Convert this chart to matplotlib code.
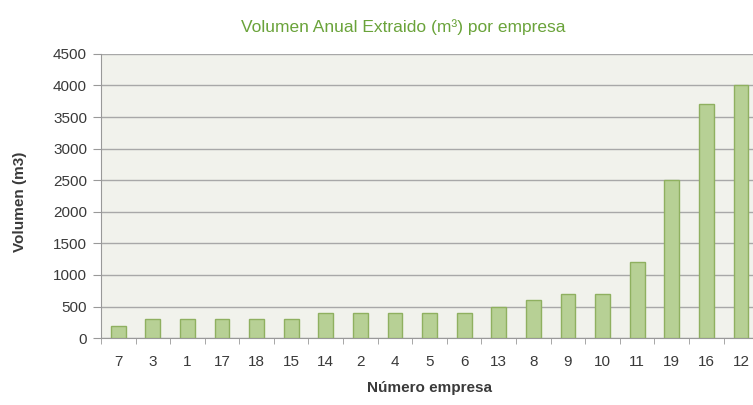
import matplotlib.pyplot as plt
import numpy as np

plt.rcParams["font.family"] = ["Liberation Sans", "DejaVu Sans"]

# company numbers (sorted by volume) and annual extracted volume (m3)
empresas = ["7", "3", "1", "17", "18", "15", "14", "2", "4", "5", "6",
            "13", "8", "9", "10", "11", "19", "16", "12"]
volumen = [200, 300, 300, 300, 300, 300, 400, 400, 400, 400, 400,
           500, 600, 700, 700, 1200, 2500, 3700, 4000]
yticks = list(range(0, 4501, 500))

fig = plt.figure(figsize=(7.53, 4.05), dpi=100)
# plot area runs slightly past the right edge, as in the source
ax = fig.add_axes([0.134, 0.165, 0.873, 0.702])
ax.set_facecolor("#f1f2ec")

x = np.arange(len(empresas))
ax.bar(x, volumen, width=0.43, color="#b7d095", edgecolor="#8fb060", linewidth=1.0, zorder=3)

ax.set_xlim(-0.5, len(empresas) - 0.5)
ax.set_ylim(0, 4500)
ax.set_yticks(yticks)
ax.set_yticklabels([str(v) for v in yticks], fontsize=11, color="#3a3a3a")
ax.set_xticks(x)
ax.set_xticklabels(empresas, fontsize=11, color="#3a3a3a")
ax.tick_params(axis="x", length=0, pad=12)
ax.set_xticks(np.arange(-0.5, len(empresas)), minor=True)
ax.tick_params(axis="x", which="minor", length=4, color="#999999")
ax.tick_params(axis="y", length=6, color="#999999", pad=4)

ax.grid(axis="y", color="#a8a8a8", linewidth=1.0, zorder=1)
for side in ("top", "right"):
    ax.spines[side].set_visible(False)
for side in ("left", "bottom"):
    ax.spines[side].set_color("#999999")

ax.set_ylabel("Volumen (m3)", fontsize=11, fontweight="bold", color="#3a3a3a")
ax.yaxis.set_label_coords(-0.112, 0.48)
ax.set_xlabel("Número empresa", fontsize=11, fontweight="bold", color="#3a3a3a", labelpad=9)

fig.text(0.535, 0.932, "Volumen Anual Extraido (m³) por empresa", ha="center", va="center",
         fontsize=12.5, color="#6aa33a")

fig.savefig("out.png", dpi=100)
